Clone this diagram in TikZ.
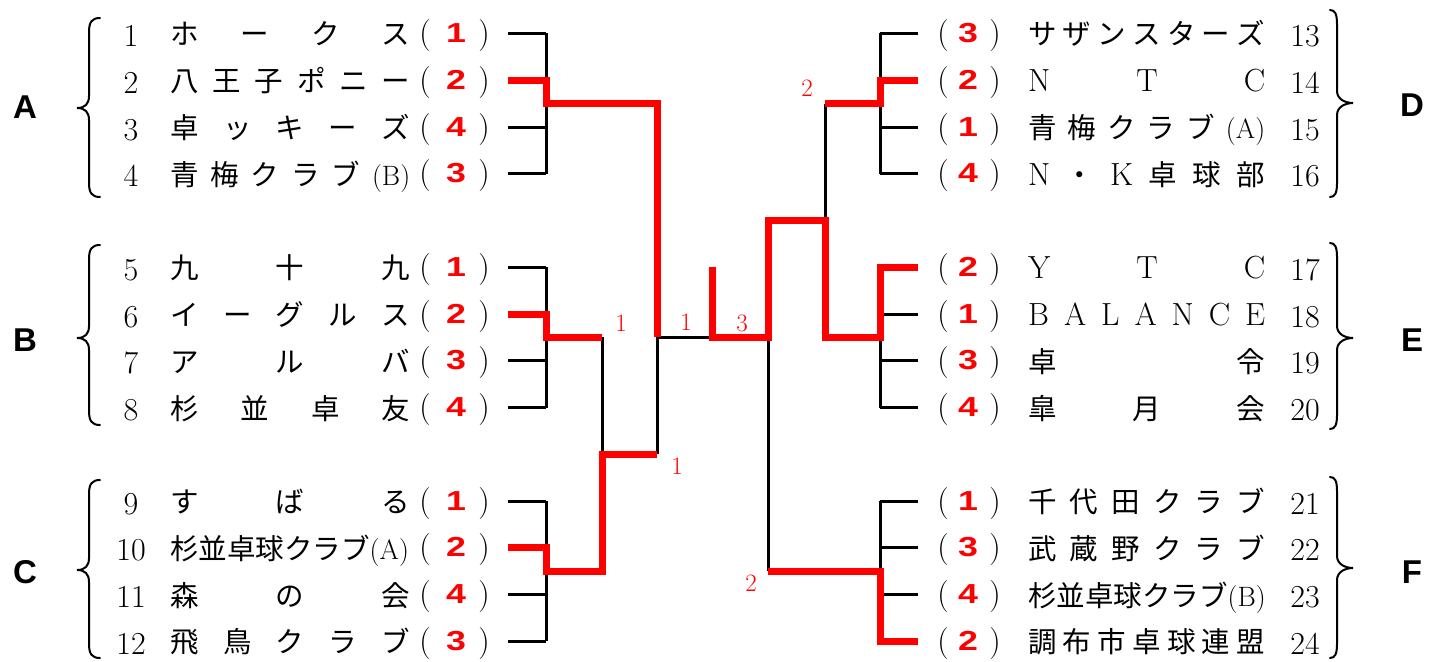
\documentclass[tikz,border=0pt]{standalone}
\usepackage{fontspec}
\newfontfamily\jp{Noto Sans CJK JP}
\newfontfamily\grpfont{Liberation Sans}
\newfontfamily\rnum{Liberation Sans}[FakeStretch=1.3]
\newcommand\lt[1]{{\rmfamily\fontsize{32}{32}\selectfont #1}}
\newcommand\pl[1]{{\rmfamily\fontsize{28}{28}\selectfont #1}}
\tikzset{
 numtxt/.style={anchor=base, inner sep=0pt, font=\rmfamily\fontsize{32}{32}\selectfont},
 nametxt/.style={anchor=base west, inner sep=0pt, font=\jp\fontsize{28.5}{30}\selectfont},
 paren/.style={anchor=base, inner sep=0pt, font=\rmfamily\fontsize{32}{32}\selectfont},
 rank/.style={anchor=base, inner sep=0pt, text=red, font=\rnum\bfseries\fontsize{27.5}{28}\selectfont},
 grp/.style={anchor=center, inner sep=0pt, font=\grpfont\bfseries\fontsize{33}{33}\selectfont},
 score/.style={anchor=center, inner sep=0pt, text=red, font=\rmfamily\fontsize{25}{25}\selectfont},
 bk/.style={line width=3pt, black},
 rd/.style={line width=7pt, red, line join=miter},
 brc/.style={line width=2pt, line cap=round}
}
\newcommand\lrow[4]{%
 \pgfmathsetmacro\yy{33.5+46.75*#2}%
 \node[numtxt] (ln#1) at (131,\yy+13) {#1};
 \node[nametxt] (lt#1) at (170,\yy+11.5) {\makebox[240pt][l]{#3}};
 \node[paren] (lo#1) at (425,\yy+10) {(};
 \node[rank] (lr#1) at (456,\yy+9) {#4};
 \node[paren] (lc#1) at (484,\yy+10) {)};
 \coordinate (ls#1) at (508,\yy);
 \coordinate (lj#1) at (546,\yy);
 \draw[bk] (ls#1) -- (lj#1);
}
\newcommand\rrow[4]{%
 \pgfmathsetmacro\yy{33.5+46.75*#2}%
 \node[paren] (ro#1) at (943,\yy+10) {(};
 \node[rank] (rr#1) at (968,\yy+9) {#4};
 \node[paren] (rc#1) at (995,\yy+10) {)};
 \node[nametxt] (rt#1) at (1028,\yy+11.5) {\makebox[237pt][l]{#3}};
 \node[numtxt] (rn#1) at (1305,\yy+13) {#1};
 \coordinate (rs#1) at (918,\yy);
 \coordinate (rj#1) at (880,\yy);
 \draw[bk] (rs#1) -- (rj#1);
}
\newcommand\leftbrc[3]{%
 \draw[brc] (100,#1) .. controls (92,#1) and (89,#1+4) .. (89,#1+14) -- (89,#2-12)
   .. controls (89,#2-4) and (85,#2) .. (77,#2) .. controls (85,#2) and (89,#2+4) .. (89,#2+12)
   -- (89,#3-14) .. controls (89,#3-4) and (92,#3) .. (100,#3);}
\newcommand\rightbrc[3]{%
 \draw[brc] (1330,#1) .. controls (1335,#1) and (1337,#1+4) .. (1337,#1+14) -- (1337,#2-12)
   .. controls (1337,#2-4) and (1345,#2) .. (1353,#2) .. controls (1345,#2) and (1337,#2+4) .. (1337,#2+12)
   -- (1337,#3-14) .. controls (1337,#3-4) and (1335,#3) .. (1330,#3);}
\begin{document}
\begin{tikzpicture}[x=1pt,y=-1pt]
\useasboundingbox[fill=white] (0,0) rectangle (1429,661);
% left teams
\lrow{1}{0}{ホ\hfill ー\hfill ク\hfill ス}{1}
\lrow{2}{1}{八\hfill 王\hfill 子\hfill ポ\hfill ニ\hfill ー}{2}
\lrow{3}{2}{卓\hfill ッ\hfill キ\hfill ー\hfill ズ}{4}
\lrow{4}{3}{青\hfill 梅\hfill ク\hfill ラ\hfill ブ\hfill\pl{(B)}}{3}
\lrow{5}{5}{九\hfill 十\hfill 九}{1}
\lrow{6}{6}{イ\hfill ー\hfill グ\hfill ル\hfill ス}{2}
\lrow{7}{7}{ア\hfill ル\hfill バ}{3}
\lrow{8}{8}{杉\hfill 並\hfill 卓\hfill 友}{4}
\lrow{9}{10}{す\hfill ば\hfill る}{1}
\lrow{10}{11}{杉並卓球クラブ\pl{(A)}}{2}
\lrow{11}{12}{森\hfill の\hfill 会}{4}
\lrow{12}{13}{飛\hfill 鳥\hfill ク\hfill ラ\hfill ブ}{3}
% right teams
\rrow{13}{0}{サ\hfill ザ\hfill ン\hfill ス\hfill タ\hfill ー\hfill ズ}{3}
\rrow{14}{1}{\lt{N}\hfill\lt{T}\hfill\lt{C}}{2}
\rrow{15}{2}{青\hfill 梅\hfill ク\hfill ラ\hfill ブ\hfill\pl{(A)}}{1}
\rrow{16}{3}{\lt{N}\hfill ・\hfill\lt{K}\hfill 卓\hfill 球\hfill 部}{4}
\rrow{17}{5}{\lt{Y}\hfill\lt{T}\hfill\lt{C}}{2}
\rrow{18}{6}{\lt{B}\hfill\lt{A}\hfill\lt{L}\hfill\lt{A}\hfill\lt{N}\hfill\lt{C}\hfill\lt{E}}{1}
\rrow{19}{7}{卓\hfill 令}{3}
\rrow{20}{8}{皐\hfill 月\hfill 会}{4}
\rrow{21}{10}{千\hfill 代\hfill 田\hfill ク\hfill ラ\hfill ブ}{1}
\rrow{22}{11}{武\hfill 蔵\hfill 野\hfill ク\hfill ラ\hfill ブ}{3}
\rrow{23}{12}{杉並卓球クラブ\pl{(B)}}{4}
\rrow{24}{13}{調\hfill 布\hfill 市\hfill 卓\hfill 球\hfill 連\hfill 盟}{2}
% junctions
\coordinate (mA) at (546,103.625);
\coordinate (mB) at (546,337.375);
\coordinate (mC) at (546,571.125);
\coordinate (qBC) at (602,337.375);
\coordinate (pBC) at (602,454.25);
\coordinate (qC) at (602,571.125);
\coordinate (sA) at (657,103.625);
\coordinate (sL) at (657,337.375);
\coordinate (sBC) at (657,454.25);
\coordinate (fL) at (712,337.375);
\coordinate (fT) at (712,267.25);
\coordinate (fR) at (768,337.375);
\coordinate (tDE) at (768,220.5);
\coordinate (tDE2) at (825,220.5);
\coordinate (mD2) at (825,103.625);
\coordinate (mE2) at (825,337.375);
\coordinate (mD) at (880,103.625);
\coordinate (mE) at (880,337.375);
\coordinate (mF) at (880,571.125);
\coordinate (mF2) at (768,571.125);
% black lines
\draw[bk] (lj1) -- (lj4);
\draw[bk] (lj5) -- (lj8);
\draw[bk] (lj9) -- (lj12);
\draw[bk] (rj13) -- (rj16);
\draw[bk] (rj17) -- (rj20);
\draw[bk] (rj21) -- (rj24);
\draw[bk] (qBC) -- (qC);
\draw[bk] (sL) -- (sBC);
\draw[bk] (sL) -- (fL);
\draw[bk] (fR) -- (mF2);
\draw[bk] (mD2) -- (tDE2);
% red winner lines
\draw[rd] (ls2) -- (lj2) -- (mA) -- (sA) -- (sL);
\draw[rd] (ls6) -- (lj6) -- (mB) -- (qBC);
\draw[rd] (ls10) -- (lj10) -- (mC) -- (qC) -- (pBC) -- (sBC);
\draw[rd] (rs14) -- (rj14) -- (mD) -- (mD2);
\draw[rd] (rs17) -- (rj17) -- (mE) -- (mE2) -- (tDE2) -- (tDE) -- (fR) -- (fL) -- (fT);
\draw[rd] (mF2) -- (mF) -- (rj24) -- (rs24);
% scores
\node[score] (sc1) at (621,323.5) {1};
\node[score] (sc2) at (686,322.5) {1};
\node[score] (sc3) at (742,323) {3};
\node[score] (sc4) at (677,466.6) {1};
\node[score] (sc5) at (807,88.3) {2};
\node[score] (sc6) at (751,583.7) {2};
% braces
\leftbrc{18}{108}{197}
\leftbrc{245}{338}{425}
\leftbrc{480}{570}{658}
\rightbrc{10}{103}{197}
\rightbrc{243}{338}{429}
\rightbrc{477}{568}{658}
% group letters
\node[grp] (gA) at (25,107.5) {A};
\node[grp] (gB) at (25,340) {B};
\node[grp] (gC) at (25,572) {C};
\node[grp] (gD) at (1412,105) {D};
\node[grp] (gE) at (1412,340) {E};
\node[grp] (gF) at (1412,572) {F};
\end{tikzpicture}
\end{document}
